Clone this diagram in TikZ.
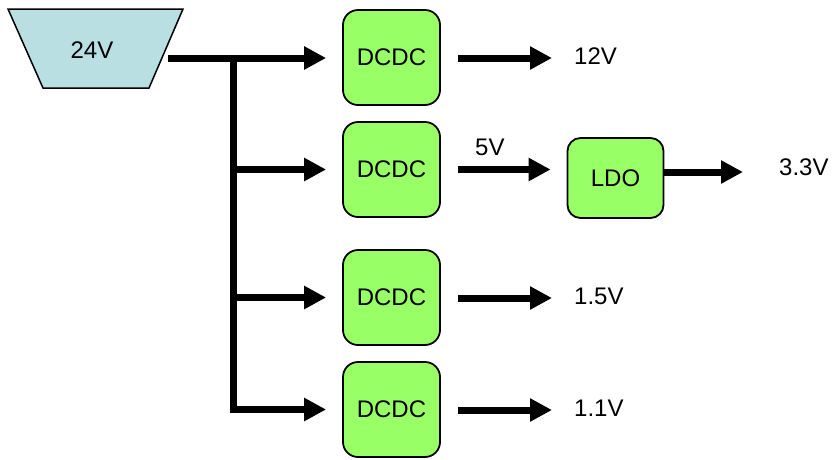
\documentclass[tikz,border=0pt]{standalone}
\usepackage{fontspec}
\setmainfont{Liberation Sans}
\usetikzlibrary{arrows.meta}
\definecolor{srcblue}{HTML}{B9DFE3}
\definecolor{boxgreen}{HTML}{99FF66}
\begin{document}
\begin{tikzpicture}[x=1pt,y=-1pt,
  every node/.style={font=\fontsize{24}{28}\selectfont},
  box/.style={draw=black, line width=1.8pt, fill=boxgreen, rounded corners=15pt,
    minimum width=97pt, minimum height=95pt, inner sep=0pt},
  ldobox/.style={box, minimum width=96pt, minimum height=80pt, rounded corners=13pt},
  thick line/.style={line width=7pt, line join=miter},
  arr/.style={thick line, -{Triangle[length=22pt,width=22pt]}},
  lbl/.style={inner sep=0pt, anchor=base west}]
\useasboundingbox (0,0) rectangle (839,459);
% source
\draw[line width=1.5pt, fill=srcblue] (8,9) -- (183,9) -- (149,88) -- (43,88) -- cycle;
\node (src) at (92,50) {24V};
\coordinate (srcout) at (168,58);
\coordinate (j) at (233,58);
% converters
\node[box] (d1) at (391.5,57.5) {DCDC};
\node[box] (d2) at (391.5,169.5) {DCDC};
\node[box] (d3) at (391.5,297.5) {DCDC};
\node[box] (d4) at (391.5,409.5) {DCDC};
\node[ldobox] (ldo) at (615.5,178) {LDO};
% input distribution
\draw[arr, shorten >=16pt] (srcout) -- (d1.west |- srcout);
\draw[thick line] (j) -- (233,410);
\draw[arr, shorten >=16pt] (j) |- (d2.west);
\draw[arr, shorten >=16pt] (j) |- (d3.west);
\draw[arr, shorten >=16pt] (j) |- (d4.west);
% outputs
\coordinate (o1) at (552,58);
\coordinate (o3) at (552,298);
\coordinate (o4) at (552,410);
\coordinate (o5) at (743,172);
\draw[arr, shorten <=17pt] (d1.east |- o1) -- (o1);
\draw[arr, shorten <=17pt, shorten >=16pt] (d2.east) -- (d2.east -| ldo.west);
\draw[arr, shorten <=17pt] (d3.east |- o3) -- (o3);
\draw[arr, shorten <=17pt] (d4.east |- o4) -- (o4);
\draw[arr] (ldo.east |- o5) -- (o5);
% labels
\node[lbl] (l12) at (574,64) {12V};
\node[lbl] (l5) at (475,155) {5V};
\node[lbl] (l33) at (779,175) {3.3V};
\node[lbl] (l15) at (574,304) {1.5V};
\node[lbl] (l11) at (574,416) {1.1V};
\end{tikzpicture}
\end{document}
